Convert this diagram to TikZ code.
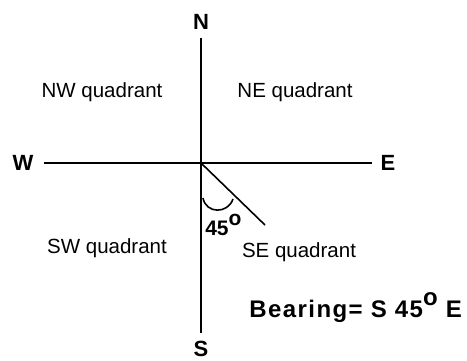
\documentclass[tikz,border=0pt]{standalone}
\usepackage{fontspec}
\setmainfont{Liberation Sans}
\newfontfamily\bearingfont[LetterSpace=6]{Liberation Sans}
\usepackage{tikz}
\usetikzlibrary{calc}

\begin{document}
\begin{tikzpicture}[x=1pt, y=-1pt, line width=2.6pt,
  point/.style={font=\fontsize{22}{22}\selectfont\bfseries, inner sep=7pt},
  quad/.style={font=\fontsize{20.5}{20.5}\selectfont, anchor=base, inner sep=0pt}]
  \useasboundingbox (0,0) rectangle (467,360);
  % compass points
  \node[point] (N) at (201,22) {N};
  \node[point] (S) at (201,349) {S};
  \node[point, inner xsep=9pt] (W) at (23,163) {W};
  \node[point] (E) at (388,163) {E};
  \draw (N) -- (S);
  \draw (W) -- (E);
  % quadrants
  \node[quad] (nw) at (102,97) {NW quadrant};
  \node[quad] (ne) at (295,97) {NE quadrant};
  \node[quad] (sw) at (107,253) {SW quadrant};
  \node[quad] (se) at (299,257) {SE quadrant};
  % bearing line and angle
  \coordinate (O) at (201,163);
  \coordinate (tip) at (265,225);
  \coordinate (a1) at (203,198);
  \coordinate (a2) at (233,199);
  \draw[line width=1.6pt] (O) -- (tip);
  \draw[line width=1.6pt] (a1) .. controls (206,214) and (228,214) .. (a2);
  \node[font=\fontsize{21}{21}\selectfont\bfseries, anchor=base west, inner sep=0pt] (ang) at (204,235) {45\raisebox{0.9ex}{o}};
  \node[font=\bearingfont\fontsize{24}{24}\selectfont\bfseries, anchor=base west, inner sep=0pt] (bearing) at (248,317) {Bearing= S 45\raisebox{0.9ex}{o} E};
\end{tikzpicture}
\end{document}
